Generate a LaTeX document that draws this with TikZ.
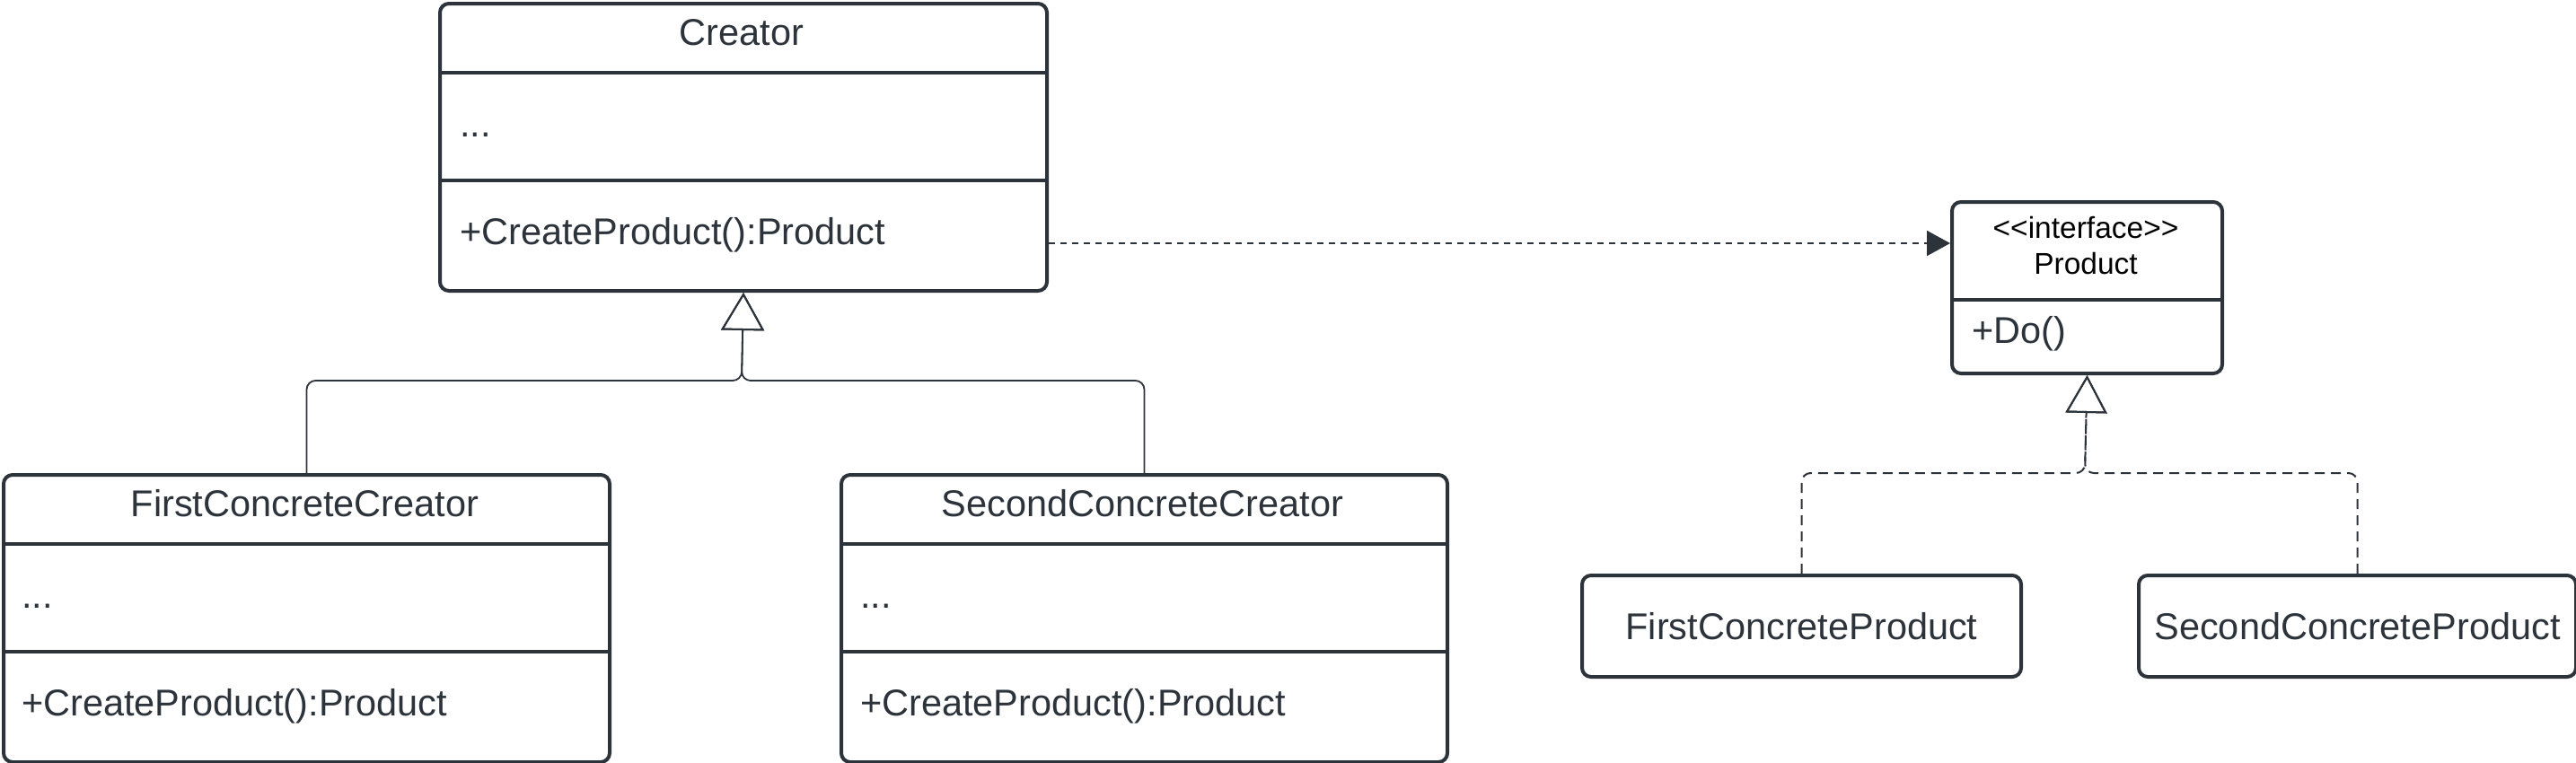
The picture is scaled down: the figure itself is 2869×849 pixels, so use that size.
\documentclass[tikz,border=0pt]{standalone}
\usepackage{fontspec}
\setmainfont{Liberation Sans}
\usetikzlibrary{arrows.meta,calc}
\definecolor{ink}{HTML}{2D333B}
\begin{document}
\begin{tikzpicture}[x=1pt,y=-1pt,
  box/.style={draw=ink, line width=4pt, rounded corners=10pt, fill=white, anchor=north west, inner sep=0pt},
  div/.style={draw=ink, line width=4pt},
  lbl/.style={text=ink, font=\fontsize{41.5}{48}\selectfont, inner sep=0pt},
  ilbl/.style={text=black, font=\fontsize{33.5}{40}\selectfont, inner sep=0pt},
  gen/.style={draw=ink, line width=1.8pt, rounded corners=10pt, -{Triangle[open, length=42pt, width=48pt, line width=2pt]}},
  real/.style={draw=ink, line width=2pt, dash pattern=on 11pt off 7pt, rounded corners=10pt, -{Triangle[open, length=42pt, width=46pt, line width=2pt]}},
  dep/.style={draw=ink, line width=2pt, dash pattern=on 7pt off 6pt, -{Triangle[length=26pt, width=28pt]}}
]
\useasboundingbox (0,0) rectangle (2869,849);

% Creator
\node[box, minimum width=676pt, minimum height=320pt] (creator) at (488,2) {};
\draw[div] ([yshift=-79pt]creator.north west) -- ([yshift=-79pt]creator.north east);
\draw[div] ([yshift=-199pt]creator.north west) -- ([yshift=-199pt]creator.north east);
\node[lbl, anchor=base] (creatorT) at (826,50) {Creator};
\node[lbl, anchor=base west] (creatorA) at (512,152) {...};
\node[lbl, anchor=base west] (creatorM) at (512,272) {+CreateProduct():Product};

% FirstConcreteCreator
\node[box, minimum width=675pt, minimum height=320pt] (fcc) at (2,527) {};
\draw[div] ([yshift=-79pt]fcc.north west) -- ([yshift=-79pt]fcc.north east);
\draw[div] ([yshift=-199pt]fcc.north west) -- ([yshift=-199pt]fcc.north east);
\node[lbl, anchor=base] (fccT) at (339.5,575) {FirstConcreteCreator};
\node[lbl, anchor=base west] (fccA) at (24,677) {...};
\node[lbl, anchor=base west] (fccM) at (24,797) {+CreateProduct():Product};

% SecondConcreteCreator
\node[box, minimum width=675pt, minimum height=320pt] (scc) at (935,527) {};
\draw[div] ([yshift=-79pt]scc.north west) -- ([yshift=-79pt]scc.north east);
\draw[div] ([yshift=-199pt]scc.north west) -- ([yshift=-199pt]scc.north east);
\node[lbl, anchor=base] (sccT) at (1272.5,575) {SecondConcreteCreator};
\node[lbl, anchor=base west] (sccA) at (958,677) {...};
\node[lbl, anchor=base west] (sccM) at (958,797) {+CreateProduct():Product};

% Product interface
\node[box, minimum width=301pt, minimum height=191pt] (prod) at (2172,223) {};
\draw[div] ([yshift=-111pt]prod.north west) -- ([yshift=-111pt]prod.north east);
\node[ilbl, anchor=base] (prodS) at (2323,265) {{<}{<}interface{>}{>}};
\node[ilbl, anchor=base] (prodT) at (2323,305) {Product};
\node[lbl, anchor=base west] (prodM) at (2196,382) {+Do()};

% Concrete products
\node[box, minimum width=489pt, minimum height=113pt] (fcp) at (1760,639) {};
\node[lbl] (fcpT) at (fcp.center) {FirstConcreteProduct};
\node[box, minimum width=487pt, minimum height=113pt] (scp) at (2380,639) {};
\node[lbl] (scpT) at (scp.center) {SecondConcreteProduct};

% Generalization
\coordinate (gj) at (826,424);
\draw[gen] (fcc.north) -- (fcc.north |- gj) -- (gj) -- (creator.south);
\draw[gen] (scc.north) -- (scc.north |- gj) -- (gj) -- (creator.south);

% Realization
\coordinate (rj) at (2322,527);
\draw[real] (fcp.north) -- (fcp.north |- rj) -- (rj) -- (prod.south);
\draw[real] (scp.north) -- (scp.north |- rj) -- (rj) -- (prod.south);

% Dependency
\draw[dep] ([yshift=-107pt]creator.east) -- ([yshift=-107pt]creator.east -| prod.west);
\end{tikzpicture}
\end{document}
